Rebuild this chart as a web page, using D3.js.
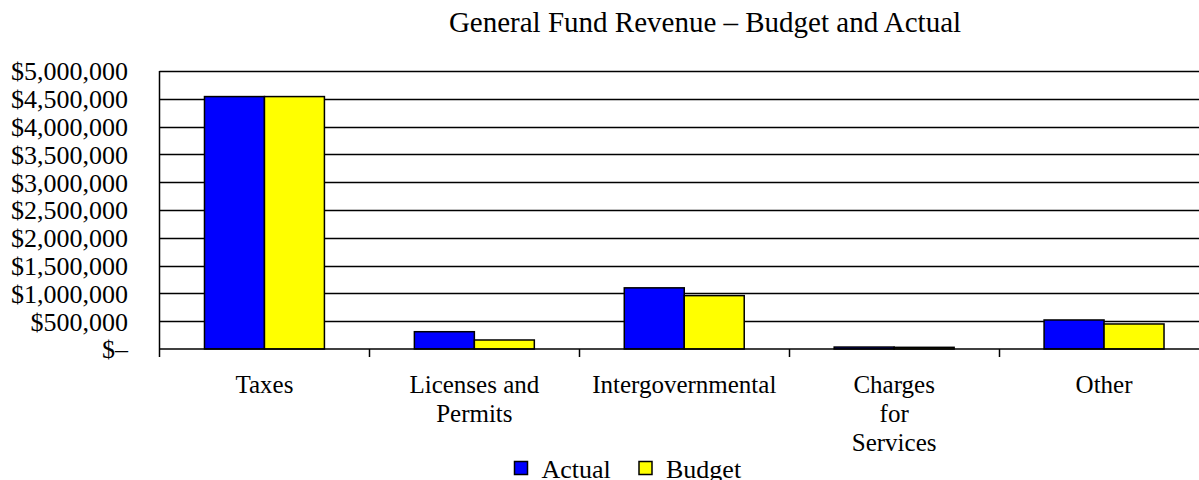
<!DOCTYPE html>
<html>
<head>
<meta charset="utf-8">
<script src="https://cdn.jsdelivr.net/npm/d3@7"></script>
<style>
  body { margin: 0; background: #fff; }
  text { font-family: "Liberation Serif", "Times New Roman", serif; fill: #000; }
</style>
</head>
<body>
<div id="chart"></div>
<script>
var width = 1199,
    height = 480;

// data
var categories = ["Taxes", "Licenses and Permits", "Intergovernmental", "Charges for Services", "Other"];
var labelLines = [["Taxes"], ["Licenses and", "Permits"], ["Intergovernmental"], ["Charges", "for", "Services"], ["Other"]];
var seriesNames = ["Actual", "Budget"];
var actual = [4540000, 311000, 1100000, 35000, 522000];
var budget = [4540000, 162000, 960000, 30000, 450000];
var yTicks = [0, 500000, 1000000, 1500000, 2000000, 2500000, 3000000, 3500000, 4000000, 4500000, 5000000];

var color = d3.scaleOrdinal().domain(seriesNames).range(["#0000ff", "#ffff00"]);

var svg = d3.select("#chart").append("svg")
    .attr("width", width)
    .attr("height", height);

var x0 = d3.scaleBand()
    .domain(categories)
    .range([159.5, 1209])
    .padding(0);

var x1 = d3.scaleBand()
    .domain(seriesNames)
    .range([0, x0.bandwidth()])
    .paddingInner(0)
    .paddingOuter(0.75);

var y = d3.scaleLinear()
    .domain([0, 5000000])
    .range([349, 71]);

// title
svg.append("text")
    .attr("x", 705)
    .attr("y", 32)
    .attr("text-anchor", "middle")
    .style("font-size", "29px")
    .text("General Fund Revenue \u2013 Budget and Actual");

// gridlines
svg.append("g")
    .selectAll("line")
    .data(yTicks.filter(function(d){ return d > 0; }))
    .enter().append("line")
    .attr("x1", 159.5)
    .attr("x2", width)
    .attr("y1", function(d){ return Math.round(y(d)) + 0.5; })
    .attr("y2", function(d){ return Math.round(y(d)) + 0.5; })
    .attr("stroke", "#000")
    .attr("stroke-width", 1.4);

// y labels
var fmt = d3.format("$,");
svg.append("g")
    .selectAll("text")
    .data(yTicks)
    .enter().append("text")
    .attr("x", 128)
    .attr("y", function(d){ return y(d); })
    .attr("dy", "0.36em")
    .attr("text-anchor", "end")
    .style("font-size", "26px")
    .text(function(d){ return d === 0 ? "$\u2013" : fmt(d); });

// bars
var rows = categories.map(function(c, i){
    return { cat: c, values: [{ key: "Actual", value: actual[i] }, { key: "Budget", value: budget[i] }] };
});

var groups = svg.append("g")
    .selectAll("g")
    .data(rows)
    .enter().append("g")
    .attr("transform", function(d){ return "translate(" + x0(d.cat) + ",0)"; });

groups.selectAll("rect")
    .data(function(d){ return d.values; })
    .enter().append("rect")
    .attr("x", function(d){ return x1(d.key); })
    .attr("y", function(d){ return y(d.value); })
    .attr("width", x1.bandwidth())
    .attr("height", function(d){ return y(0) - y(d.value); })
    .attr("fill", function(d){ return color(d.key); })
    .attr("stroke", "#000")
    .attr("stroke-width", 1.5);

// axes frame
svg.append("line")
    .attr("x1", 159.5).attr("x2", 159.5)
    .attr("y1", y(5000000)).attr("y2", y(0) + 8)
    .attr("stroke", "#000").attr("stroke-width", 1.5);

svg.append("line")
    .attr("x1", 159.5).attr("x2", width)
    .attr("y1", y(0)).attr("y2", y(0))
    .attr("stroke", "#000").attr("stroke-width", 1.5);

// category ticks between bands
var bounds = categories.map(function(c){ return x0(c) + x0.bandwidth(); });
svg.append("g")
    .selectAll("line")
    .data(bounds)
    .enter().append("line")
    .attr("x1", function(d){ return Math.round(d) + 0.5; })
    .attr("x2", function(d){ return Math.round(d) + 0.5; })
    .attr("y1", y(0))
    .attr("y2", y(0) + 8)
    .attr("stroke", "#000")
    .attr("stroke-width", 1.5);

// category labels
var lab = svg.append("g")
    .selectAll("text")
    .data(categories)
    .enter().append("text")
    .attr("text-anchor", "middle")
    .style("font-size", "25px");

lab.each(function(c, i){
    var t = d3.select(this);
    labelLines[i].forEach(function(line, j){
        t.append("tspan")
            .attr("x", x0(c) + x0.bandwidth() / 2)
            .attr("y", 393 + j * 29)
            .text(line);
    });
});

// legend
var legend = svg.append("g")
    .selectAll("g")
    .data(seriesNames)
    .enter().append("g")
    .attr("transform", function(d, i){ return "translate(" + (514.5 + i * 124.5) + ",461.5)"; });

legend.append("rect")
    .attr("width", 13)
    .attr("height", 13)
    .attr("fill", function(d){ return color(d); })
    .attr("stroke", "#000")
    .attr("stroke-width", 1.5);

legend.append("text")
    .attr("x", 27)
    .attr("y", 16)
    .style("font-size", "26px")
    .text(function(d){ return d; });
</script>
</body>
</html>
